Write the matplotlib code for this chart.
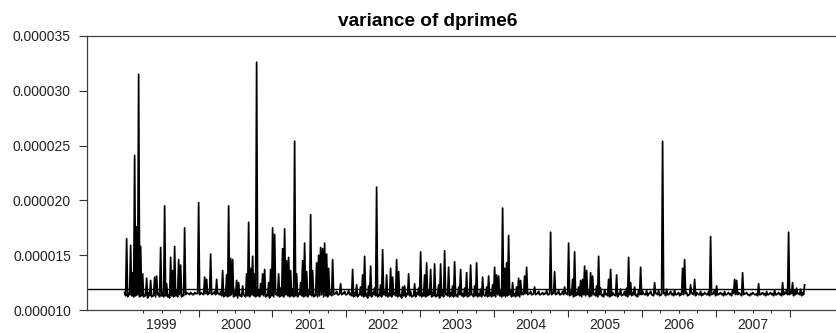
import numpy as np
import matplotlib
matplotlib.use("Agg")
import matplotlib.pyplot as plt
from matplotlib.ticker import FixedLocator, FixedFormatter

# variance of dprime6 in units of 1e-7
# peaks_e7: the reading at each step, troughs_e7: the dip in between two readings
peaks_e7 = [
    116, 165, 115, 159, 134, 241, 176, 315, 158, 133,
    114, 129, 116, 127, 113, 130, 131, 115, 157, 116,
    195, 124, 114, 148, 136, 158, 118, 146, 141, 114,
    175, 116, 115, 116, 114, 116, 115, 198, 116, 115,
    130, 128, 116, 151, 115, 117, 128, 115, 117, 136,
    116, 132, 195, 147, 146, 117, 127, 125, 114, 122,
    113, 133, 180, 138, 149, 133, 326, 118, 124, 133,
    137, 114, 125, 137, 175, 169, 116, 133, 120, 156,
    174, 145, 148, 136, 119, 254, 133, 115, 125, 145,
    161, 135, 117, 187, 136, 114, 143, 150, 157, 156,
    161, 151, 138, 116, 146, 115, 117, 114, 124, 115,
    117, 114, 118, 115, 137, 116, 123, 114, 121, 132,
    149, 115, 122, 140, 116, 120, 212, 114, 123, 155,
    117, 132, 115, 138, 130, 116, 146, 135, 114, 121,
    122, 115, 133, 117, 113, 124, 116, 120, 153, 115,
    132, 143, 118, 137, 116, 142, 114, 123, 142, 117,
    154, 115, 139, 116, 122, 144, 114, 121, 137, 115,
    120, 134, 116, 141, 114, 122, 143, 115, 119, 130,
    113, 121, 131, 116, 123, 139, 132, 131, 117, 193,
    138, 143, 168, 118, 125, 115, 121, 129, 127, 116,
    131, 139, 115, 117, 114, 121, 115, 117, 114, 116,
    115, 118, 114, 171, 116, 135, 115, 118, 114, 117,
    121, 115, 161, 117, 128, 153, 116, 121, 127, 128,
    140, 136, 117, 134, 131, 115, 122, 149, 120, 114,
    118, 115, 128, 137, 116, 114, 132, 115, 119, 114,
    117, 120, 148, 125, 116, 121, 114, 118, 139, 117,
    114, 118, 115, 117, 114, 125, 115, 118, 114, 254,
    116, 119, 114, 117, 115, 118, 114, 116, 115, 138,
    146, 116, 114, 123, 115, 128, 116, 114, 117, 115,
    116, 114, 117, 167, 115, 118, 122, 114, 116, 115,
    117, 114, 116, 115, 118, 128, 127, 116, 114, 134,
    115, 116, 114, 115, 116, 114, 115, 124, 114, 116,
    115, 117, 114, 116, 115, 118, 114, 116, 115, 125,
    116, 118, 171, 117, 125, 118, 120, 115, 119, 116,
    123,
]
troughs_e7 = [
    113, 112, 114, 113, 112, 113, 114, 112, 113, 112,
    113, 111, 113, 112, 113, 112, 114, 112, 113, 112,
    113, 112, 111, 113, 112, 113, 112, 114, 112, 113,
    114, 115, 114, 115, 114, 115, 115, 114, 115, 114,
    115, 114, 115, 114, 115, 114, 115, 114, 113, 112,
    113, 112, 113, 114, 112, 113, 111, 113, 112, 114,
    112, 113, 112, 114, 113, 112, 113, 112, 114, 113,
    112, 113, 111, 113, 112, 114, 113, 112, 113, 112,
    114, 113, 112, 113, 112, 113, 112, 114, 113, 112,
    113, 112, 114, 113, 112, 113, 112, 113, 114, 112,
    113, 112, 114, 113, 114, 115, 114, 115, 114, 115,
    114, 115, 114, 113, 112, 113, 112, 114, 113, 112,
    113, 111, 113, 112, 114, 113, 112, 113, 112, 114,
    113, 112, 113, 112, 114, 113, 112, 113, 111, 113,
    112, 114, 113, 112, 113, 112, 114, 113, 112, 113,
    112, 113, 114, 112, 113, 112, 113, 111, 113, 112,
    114, 113, 112, 113, 112, 113, 112, 114, 113, 112,
    113, 112, 113, 114, 112, 113, 112, 113, 112, 114,
    113, 112, 113, 112, 113, 112, 114, 113, 112, 113,
    112, 113, 114, 112, 113, 112, 113, 112, 114, 114,
    115, 114, 115, 114, 115, 114, 115, 114, 115, 114,
    115, 114, 115, 114, 115, 114, 115, 114, 115, 114,
    115, 114, 113, 114, 112, 113, 114, 113, 112, 114,
    113, 114, 112, 113, 114, 113, 112, 114, 113, 112,
    114, 113, 112, 113, 114, 113, 112, 114, 113, 114,
    113, 112, 114, 113, 114, 113, 112, 114, 114, 115,
    114, 113, 115, 114, 113, 115, 114, 113, 114, 115,
    113, 114, 115, 114, 113, 114, 115, 113, 114, 114,
    115, 113, 114, 115, 114, 113, 115, 114, 113, 114,
    115, 114, 113, 114, 115, 113, 114, 115, 114, 113,
    114, 115, 114, 113, 115, 114, 114, 115, 113, 114,
    115, 114, 113, 114, 115, 114, 113, 114, 115, 114,
    113, 114, 115, 114, 113, 114, 115, 114, 113, 114,
    115, 114, 114, 115, 113, 114, 115, 114, 113, 114,
]
first_obs = 1999.0
last_obs = 2008.2
mean_e7 = 119
years = list(range(1999, 2008))
y_ticks = [0.000010, 0.000015, 0.000020, 0.000025, 0.000030, 0.000035]

vals = []
for p, t in zip(peaks_e7, troughs_e7):
    vals += [p, t]
vals.append(peaks_e7[-1])

x = np.linspace(first_obs, last_obs, len(vals))
y = np.array(vals) * 1e-7

plt.rcParams['font.family'] = ['Liberation Sans', 'DejaVu Sans']

fig = plt.figure(figsize=(8.36, 3.33), dpi=100)
ax = fig.add_axes([0.104, 0.069, 0.896, 0.823])

ax.plot(x, y, color='black', linewidth=1.25)
ax.axhline(mean_e7 * 1e-7, color='black', linewidth=1.0)

ax.set_xlim(1998.49, 2008.625)
ax.set_ylim(y_ticks[0], y_ticks[-1])

# year boundaries get the long ticks, quarters the short ones, label sits mid-year
ax.xaxis.set_major_locator(FixedLocator([yr + 1 for yr in years]))
ax.xaxis.set_major_formatter(FixedFormatter([''] * len(years)))
quarters = []
qlabels = []
for yr in years:
    for q in (0.25, 0.5, 0.75):
        quarters.append(yr + q)
        qlabels.append(str(yr) if q == 0.5 else '')
ax.xaxis.set_minor_locator(FixedLocator(quarters))
ax.xaxis.set_minor_formatter(FixedFormatter(qlabels))
ax.tick_params(axis='x', which='major', length=4.8, width=0.8, color='#333333')
ax.tick_params(axis='x', which='minor', length=2.4, width=0.8, color='#333333',
               labelsize=10, labelcolor='#222222', pad=3.5)

ax.set_yticks(y_ticks)
ax.set_yticklabels(['%.6f' % v for v in y_ticks])
ax.tick_params(axis='y', length=5.5, width=0.8, color='#333333',
               labelsize=10, labelcolor='#222222', pad=6)

ax.spines['right'].set_visible(False)
for s in ('left', 'top', 'bottom'):
    ax.spines[s].set_color('#404040')
    ax.spines[s].set_linewidth(0.9)

ax.set_title('variance of dprime6', fontsize=13.7, fontweight='bold', pad=7,
             x=0.455)

fig.savefig('out.png', dpi=100)
